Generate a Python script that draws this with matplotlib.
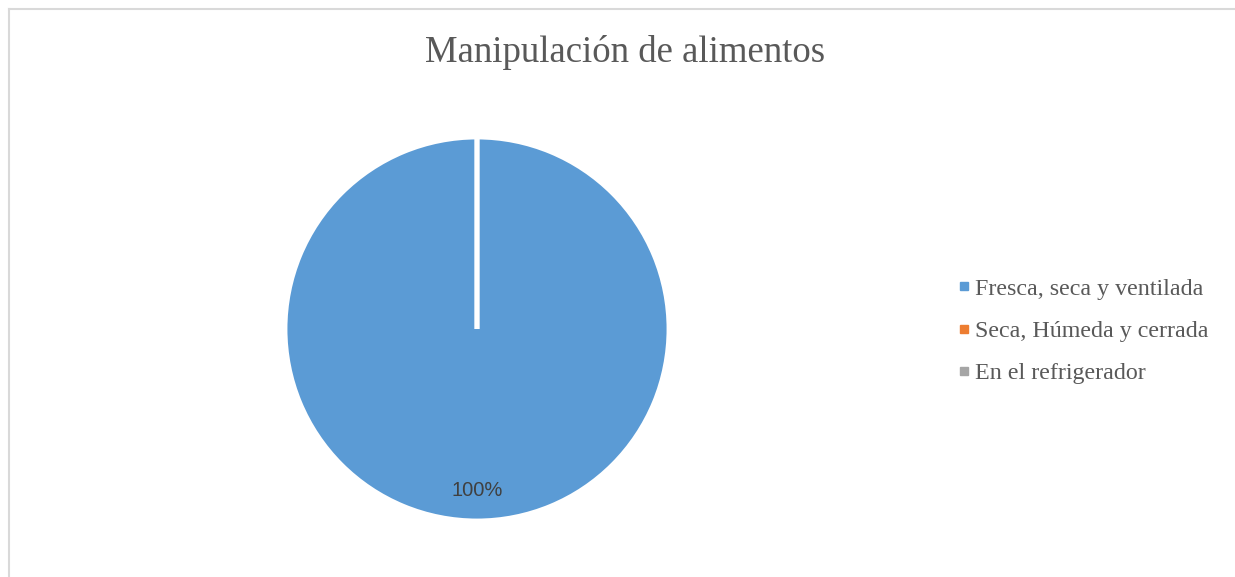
import matplotlib.pyplot as plt
from matplotlib.lines import Line2D

# datos del grafico
titulo = "Manipulación de alimentos"
categorias = ["Fresca, seca y ventilada", "Seca, Húmeda y cerrada", "En el refrigerador"]
valores = [100, 0, 0]
colores = ["#5B9BD5", "#ED7D31", "#A5A5A5"]

W, H = 1235, 577
fig = plt.figure(figsize=(W / 100, H / 100), dpi=100)

# marco gris (solo izquierda y arriba visibles)
fig.add_artist(Line2D([9 / W, 9 / W], [0, 1 - 9 / H], transform=fig.transFigure,
                      color="#D9D9D9", linewidth=1.5))
fig.add_artist(Line2D([9 / W, 1], [1 - 9 / H, 1 - 9 / H], transform=fig.transFigure,
                      color="#D9D9D9", linewidth=1.5))

fig.text(625 / W, 1 - 52 / H, titulo, ha="center", va="center",
         fontsize=26.5, color="#595959", family="Liberation Serif")

cx, cy, r = 477, 329, 192
ax = fig.add_axes([(cx - r) / W, (H - cy - r) / H, 2 * r / W, 2 * r / H])

def etiqueta(p):
    return "%d%%" % round(p) if p > 0 else ""

wedges, textos, autotextos = ax.pie(valores, colors=colores, startangle=90, counterclock=False,
                                    autopct=etiqueta, pctdistance=0.84,
                                    wedgeprops=dict(edgecolor="white", linewidth=3.5))
for t in autotextos:
    t.set_fontsize(14.5)
    t.set_color("#404040")
    t.set_family("Liberation Sans")
ax.set_xlim(-1, 1)
ax.set_ylim(-1, 1)

handles = [Line2D([], [], marker="s", linestyle="none", markersize=6,
                  markerfacecolor=c, markeredgecolor=c) for c in colores]
leg = fig.legend(handles, categorias, loc="center left", bbox_to_anchor=(950 / W, 1 - 331 / H),
                 frameon=False, handlelength=0.6, handletextpad=0.15, labelspacing=0.84,
                 borderpad=0.3, borderaxespad=0,
                 prop={"family": "Liberation Serif", "size": 17.3})
for t in leg.get_texts():
    t.set_color("#595959")

fig.savefig("out.png", dpi=100)
